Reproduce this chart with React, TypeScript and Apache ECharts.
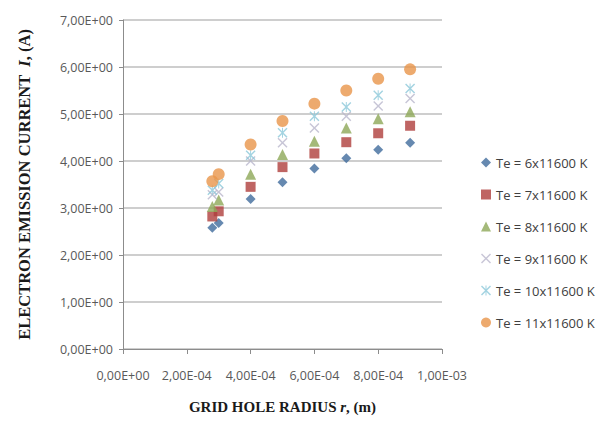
import React, { useEffect, useRef } from "react";
import * as echarts from "echarts";

const radii = [2.8e-4, 3.0e-4, 4.0e-4, 5.0e-4, 6.0e-4, 7.0e-4, 8.0e-4, 9.0e-4];
const te6 = [2.58, 2.68, 3.19, 3.55, 3.84, 4.06, 4.24, 4.39];
const te7 = [2.82, 2.93, 3.45, 3.87, 4.16, 4.4, 4.59, 4.75];
const te8 = [3.03, 3.17, 3.72, 4.14, 4.42, 4.7, 4.9, 5.05];
const te9 = [3.28, 3.34, 4.0, 4.39, 4.7, 4.95, 5.17, 5.33];
const te10 = [3.38, 3.52, 4.12, 4.6, 4.95, 5.15, 5.4, 5.54];
const te11 = [3.57, 3.72, 4.35, 4.85, 5.22, 5.5, 5.75, 5.95];
const seriesNames = [
  "Te = 6x11600 K",
  "Te = 7x11600 K",
  "Te = 8x11600 K",
  "Te = 9x11600 K",
  "Te = 10x11600 K",
  "Te = 11x11600 K",
];

const CROSS = "path://M0,1 L1,0 L5,4 L9,0 L10,1 L6,5 L10,9 L9,10 L5,6 L1,10 L0,9 L4,5 Z";
const STAR =
  "path://M0,1 L1,0 L4.5,3.5 L4.5,0 L5.5,0 L5.5,3.5 L9,0 L10,1 L6,5 L10,9 L9,10 L5.5,6.5 L5.5,10 L4.5,10 L4.5,6.5 L1,10 L0,9 L4,5 Z";

function fmtSci(v: number): string {
  if (Math.abs(v) < 1e-12) return "0,00E+00";
  let e = Math.floor(Math.log10(Math.abs(v)) + 1e-9);
  let m = v / Math.pow(10, e);
  let ms = m.toFixed(2);
  if (ms === "10.00") {
    e += 1;
    ms = "1.00";
  }
  const sign = e < 0 ? "-" : "+";
  const ea = Math.abs(e);
  return ms.replace(".", ",") + "E" + sign + (ea < 10 ? "0" + ea : "" + ea);
}

export default function App() {
  const ref = useRef<HTMLDivElement>(null);
  useEffect(() => {
    if (!ref.current) return;
    const chart = echarts.init(ref.current, undefined, { renderer: "svg" });
    const datasets = [te6, te7, te8, te9, te10, te11];
    const symbols = ["diamond", "rect", "triangle", CROSS, STAR, "circle"];
    const sizes = [10, 10, 11, 10, 10, 12];
    const colors = ["#406C9C", "#AF3F3C", "#8DA857", "#B9B6CC", "#8CC8DA", "#E8954A"];
    const serif = "'Liberation Serif', 'DejaVu Serif', serif";
    const sans = "'Open Sans', 'Liberation Sans', sans-serif";
    chart.setOption({
      animation: false,
      backgroundColor: "#ffffff",
      color: colors,
      grid: { left: 102, top: 12, width: 332, height: 335 },
      legend: {
        orient: "vertical",
        left: 468,
        top: 142,
        itemGap: 17,
        itemWidth: 10,
        itemHeight: 10,
        textStyle: { fontFamily: sans, fontSize: 13, color: "#404040", lineHeight: 15 },
        data: seriesNames.map((n, i) => ({ name: n, icon: symbols[i] })),
      },
      xAxis: {
        type: "value",
        min: 0,
        max: 0.001,
        interval: 0.0002,
        name: "GRID HOLE RADIUS {i|r}, (m)",
        nameLocation: "middle",
        nameGap: 50,
        nameTextStyle: {
          fontFamily: serif,
          fontWeight: "bold",
          fontSize: 15,
          color: "#1a1a1a",
          rich: {
            i: { fontFamily: serif, fontWeight: "bold", fontStyle: "italic", fontSize: 15, color: "#1a1a1a" },
          },
        },
        axisLine: { show: true, lineStyle: { color: "#8c8c8c", width: 1 } },
        axisTick: { show: true, length: 5, lineStyle: { color: "#8c8c8c" } },
        splitLine: { show: false },
        axisLabel: {
          formatter: (v: number) => fmtSci(v),
          fontFamily: sans,
          fontSize: 12.5,
          color: "#595959",
          margin: 20,
        },
      },
      yAxis: {
        type: "value",
        min: 0,
        max: 7,
        interval: 1,
        name: "ELECTRON EMISSION CURRENT  {i|I}, (A)",
        nameLocation: "middle",
        nameGap: 90,
        nameRotate: 90,
        nameTextStyle: {
          fontFamily: serif,
          fontWeight: "bold",
          fontSize: 16.5,
          color: "#1a1a1a",
          rich: {
            i: { fontFamily: serif, fontWeight: "bold", fontStyle: "italic", fontSize: 16.5, color: "#1a1a1a" },
          },
        },
        axisLine: { show: true, lineStyle: { color: "#8c8c8c", width: 1 } },
        axisTick: { show: true, length: 4, lineStyle: { color: "#8c8c8c" } },
        splitLine: { show: true, lineStyle: { color: "#BEBEBE", width: 1.5 } },
        axisLabel: {
          formatter: (v: number) => fmtSci(v),
          fontFamily: sans,
          fontSize: 12.5,
          color: "#595959",
          margin: 10,
        },
      },
      series: datasets.map((d, i) => ({
        name: seriesNames[i],
        type: "scatter",
        symbol: symbols[i],
        symbolSize: sizes[i],
        itemStyle: { color: colors[i] },
        data: radii.map((r, j) => [r, d[j]]),
      })),
    });
    return () => chart.dispose();
  }, []);
  return <div ref={ref} style={{ width: 591, height: 411 }} />;
}
